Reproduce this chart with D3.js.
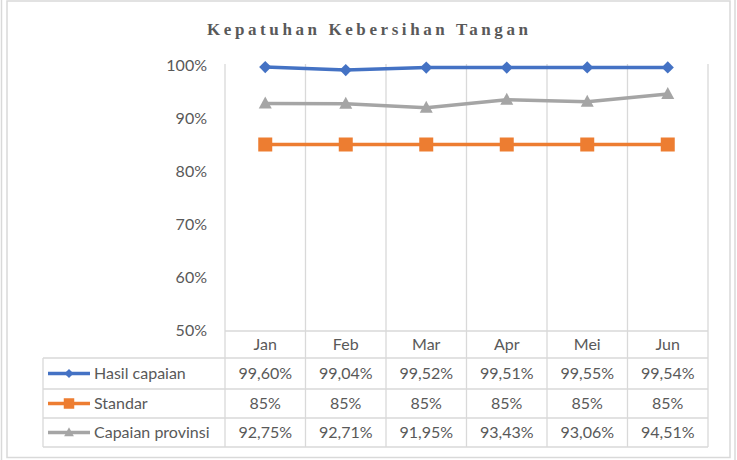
<!DOCTYPE html>
<html><head><meta charset="utf-8">
<script src="https://cdn.jsdelivr.net/npm/d3@7"></script>
<style>
html,body{margin:0;padding:0;background:#fff;}
svg{display:block;}
</style></head>
<body>
<svg id="c" width="737" height="460"></svg>
<script>
const months = ["Jan","Feb","Mar","Apr","Mei","Jun"];
const hasilCapaian = [99.60, 99.04, 99.52, 99.51, 99.55, 99.54];
const standar = [85, 85, 85, 85, 85, 85];
const capaianProvinsi = [92.75, 92.71, 91.95, 93.43, 93.06, 94.51];
const yTicks = [50, 60, 70, 80, 90, 100];
const seriesNames = ["Hasil capaian", "Standar", "Capaian provinsi"];
const titleText = "Kepatuhan Kebersihan Tangan";

const series = [
  {name: seriesNames[0], values: hasilCapaian, color: "#4472C4", marker: "diamond"},
  {name: seriesNames[1], values: standar, color: "#ED7D31", marker: "square"},
  {name: seriesNames[2], values: capaianProvinsi, color: "#A5A5A5", marker: "triangle"}
];

const svg = d3.select("#c");
const grid = "#D9D9D9";
const txt = "#595959";
const font = "Lato, 'Open Sans', sans-serif";

// frames
svg.append("line").attr("x1",1.5).attr("x2",1.5).attr("y1",0).attr("y2",460).attr("stroke",grid).attr("stroke-width",1.5);
svg.append("line").attr("x1",735).attr("x2",735).attr("y1",0).attr("y2",460).attr("stroke",grid).attr("stroke-width",1.5);
svg.append("rect").attr("x",7).attr("y",1).attr("width",723).attr("height",456.5)
  .attr("fill","none").attr("stroke",grid).attr("stroke-width",1.5);

// title
svg.append("text").attr("x",207).attr("y",35)
  .attr("textLength",321).attr("lengthAdjust","spacing")
  .attr("font-family","'Liberation Serif','Times New Roman',serif")
  .attr("font-weight","bold").attr("font-size",17).attr("fill",txt)
  .text(titleText);

const x = d3.scaleBand().domain(months).range([225, 708]);
const y = d3.scaleLinear().domain([50, 100]).range([330, 65]);

const plotTop = 64, rowH = [331, 358, 389, 418, 447];

// vertical grid lines / table verticals
const bounds = months.map(m => x(m)).concat([x(months[months.length-1]) + x.bandwidth()]);
svg.append("g").selectAll("line").data(bounds).join("line")
  .attr("x1", d => d).attr("x2", d => d).attr("y1", plotTop).attr("y2", rowH[4])
  .attr("stroke", grid).attr("stroke-width", 1.3);
// left table edge
svg.append("line").attr("x1",43).attr("x2",43).attr("y1",rowH[1]).attr("y2",rowH[4])
  .attr("stroke",grid).attr("stroke-width",1.3);
// horizontal table lines
svg.append("g").selectAll("line").data(rowH).join("line")
  .attr("x1", (d,i) => i === 0 ? 225 : 43).attr("x2", bounds[bounds.length-1])
  .attr("y1", d => d).attr("y2", d => d)
  .attr("stroke", grid).attr("stroke-width", 1.3);

// y axis labels
const yAxis = d3.axisLeft(y).tickValues(yTicks).tickFormat(d => d + "%").tickSize(0).tickPadding(0);
const ga = svg.append("g").attr("transform","translate(207,0)").call(yAxis);
ga.select(".domain").remove();
ga.selectAll("text").attr("font-family",font).attr("font-size",16).attr("fill",txt).attr("dy","0.35em");

// category labels
svg.append("g").selectAll("text").data(months).join("text")
  .attr("x", d => x(d) + x.bandwidth()/2).attr("y", (rowH[0]+rowH[1])/2).attr("dy","0.35em")
  .attr("text-anchor","middle").attr("font-family",font).attr("font-size",16).attr("fill",txt)
  .text(d => d);

function markerPath(type) {
  if (type === "diamond") return d3.symbol(d3.symbolDiamond2, 95)();
  if (type === "square") return "M-7,-7H7V7H-7Z";
  return "M0,-7L6.5,5H-6.5Z";
}
function fmt(v) { return Number.isInteger(v) ? v + "%" : v.toFixed(2).replace(".", ",") + "%"; }

const line = d3.line().x((d,i) => x(months[i]) + x.bandwidth()/2).y(d => y(d));

series.forEach((s, si) => {
  const g = svg.append("g");
  g.append("path").attr("d", line(s.values)).attr("fill","none")
    .attr("stroke", s.color).attr("stroke-width", 3.5).attr("stroke-linejoin","round");
  g.selectAll("path.m").data(s.values).join("path").attr("class","m")
    .attr("transform", (d,i) => `translate(${x(months[i]) + x.bandwidth()/2},${y(d)})`)
    .attr("d", markerPath(s.marker)).attr("fill", s.color);

  const cy = (rowH[si+1] + rowH[si+2]) / 2;
  // legend key
  g.append("line").attr("x1",48).attr("x2",90).attr("y1",cy).attr("y2",cy)
    .attr("stroke", s.color).attr("stroke-width", 3.5);
  g.append("path").attr("transform",`translate(69,${cy}) scale(0.75)`).attr("d", markerPath(s.marker)).attr("fill", s.color);
  g.append("text").attr("x",94).attr("y",cy).attr("dy","0.35em")
    .attr("font-family",font).attr("font-size",16).attr("fill",txt).text(s.name);
  // values
  g.selectAll("text.v").data(s.values).join("text").attr("class","v")
    .attr("x",(d,i) => x(months[i]) + x.bandwidth()/2).attr("y",cy).attr("dy","0.35em")
    .attr("text-anchor","middle").attr("font-family",font).attr("font-size",16).attr("fill",txt)
    .text(d => fmt(d));
});
</script>
</body></html>
